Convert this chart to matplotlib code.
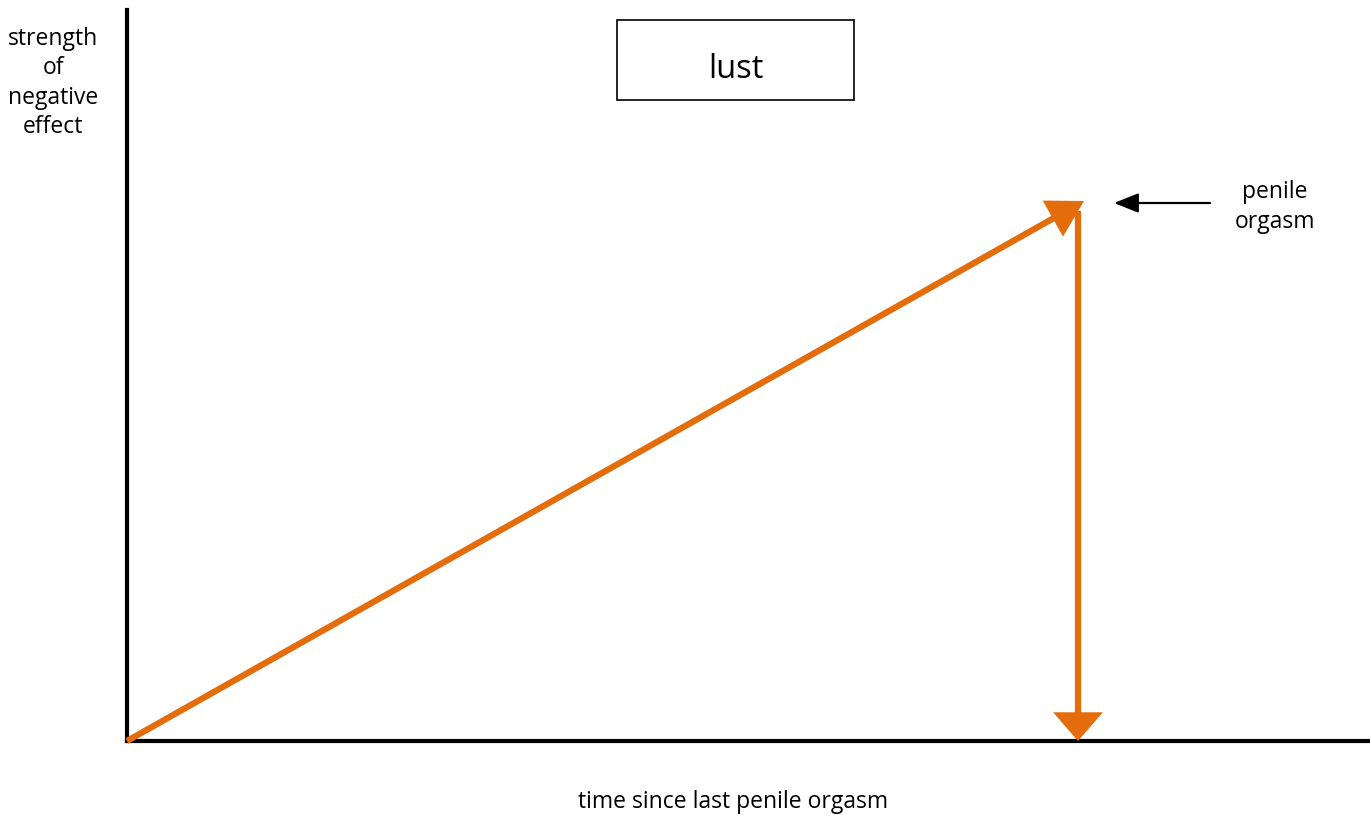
import matplotlib
matplotlib.use("Agg")
import matplotlib.pyplot as plt
from matplotlib.patches import Rectangle

plt.rcParams['font.family'] = ['Open Sans', 'DejaVu Sans']

# data (pixel-ish units / 100 along each axis)
rise_time = [0.0, 9.57]
rise_strength = [0.0, 5.40]
drop_time = [9.51, 9.51]
drop_strength = [5.30, 0.0]
marker_from = (10.83, 5.38)
marker_to = (9.87, 5.38)

title_text = "lust"
marker_label = "penile\norgasm"
x_label = "time since last penile orgasm"
y_label = "strength\nof\nnegative\neffect"

orange = "#E46C0A"

fig = plt.figure(figsize=(13.7, 8.15), dpi=100)
ax = fig.add_axes([127 / 1370, 74 / 815, 1243 / 1370, 731 / 815])
ax.set_xlim(0, 12.43)
ax.set_ylim(0, 7.31)
ax.set_xticks([])
ax.set_yticks([])
for s in ["top", "right"]:
    ax.spines[s].set_visible(False)
for s in ["left", "bottom"]:
    ax.spines[s].set_linewidth(3)
    ax.spines[s].set_color("black")

# rising arrow
ax.annotate("", xy=(rise_time[1], rise_strength[1]), xytext=(rise_time[0], rise_strength[0]),
            arrowprops=dict(arrowstyle="-|>,head_length=0.95,head_width=0.55", color=orange,
                            lw=4.5, mutation_scale=20, shrinkA=0, shrinkB=0,
                            joinstyle="miter", capstyle="butt"))
# drop arrow
ax.annotate("", xy=(drop_time[1], drop_strength[1]), xytext=(drop_time[0], drop_strength[0]),
            arrowprops=dict(arrowstyle="-|>,head_length=0.75,head_width=0.65", color=orange,
                            lw=4.5, mutation_scale=20, shrinkA=0, shrinkB=0,
                            joinstyle="miter", capstyle="butt"), zorder=3)

# small black pointer
ax.annotate("", xy=marker_to, xytext=marker_from,
            arrowprops=dict(arrowstyle="-|>,head_length=0.75,head_width=0.3", color="black",
                            lw=1.6, mutation_scale=20, shrinkA=0, shrinkB=0))
ax.text(11.48, 5.34, marker_label, ha="center", va="center", fontsize=16.5,
        linespacing=1.3, clip_on=False)

# title box
box = Rectangle((617 / 1370, (815 - 100) / 815), 237 / 1370, 80 / 815,
                transform=fig.transFigure, fill=False, ec="black", lw=1.2)
fig.add_artist(box)
fig.text(735.5 / 1370, (815 - 69) / 815, title_text, ha="center", va="center", fontsize=23.5)

fig.text(53 / 1370, (815 - 83) / 815, y_label, ha="center", va="center", fontsize=16.5,
         linespacing=1.3)
fig.text(733 / 1370, (815 - 802) / 815, x_label, ha="center", va="center", fontsize=16.5)

fig.savefig("out.png", dpi=100)
